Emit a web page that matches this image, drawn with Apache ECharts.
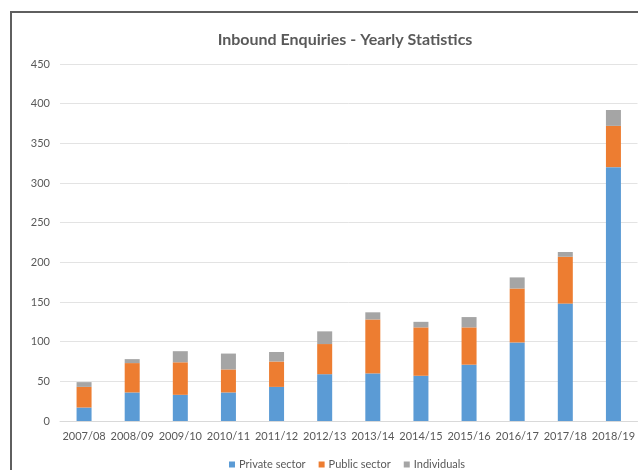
<!DOCTYPE html>
<html>
<head>
<meta charset="utf-8">
<script src="https://cdn.jsdelivr.net/npm/echarts@6/dist/echarts.min.js"></script>
<style>
  html, body { margin: 0; padding: 0; background: #fff; }
  #frame { position: absolute; left: 10px; top: 11px; width: 640px; height: 470px;
           border-left: 2px solid #5f5f5f; border-top: 2px solid #5f5f5f; }
  #chart { position: absolute; left: 0; top: 0; width: 638px; height: 470px; }
</style>
</head>
<body>
<div id="frame"></div>
<div id="chart"></div>
<script>
// Financial years on the category axis
const years = ['2007/08', '2008/09', '2009/10', '2010/11', '2011/12', '2012/13',
               '2013/14', '2014/15', '2015/16', '2016/17', '2017/18', '2018/19'];

// Enquiries per year, split by source
const privateSector = [17, 36, 33, 36, 43, 59, 60, 57, 71, 99, 148, 320];
const publicSector  = [26, 37, 41, 29, 32, 38, 68, 61, 47, 68, 59, 52];
const individuals   = [6, 5, 14, 20, 12, 16, 9, 7, 13, 14, 6, 20];

const font = 'Lato, "Open Sans", sans-serif';
const textColor = '#595959';

const chart = echarts.init(document.getElementById('chart'), null, { renderer: 'canvas' });

function bar(name, data, color) {
  return {
    name: name,
    type: 'bar',
    stack: 'total',
    barWidth: 15,
    data: data,
    itemStyle: { color: color },
    emphasis: { disabled: true }
  };
}

chart.setOption({
  animation: false,
  backgroundColor: 'transparent',
  title: {
    text: 'Inbound Enquiries - Yearly Statistics',
    left: 340,
    top: 27,
    textAlign: 'center',
    textStyle: { fontFamily: font, fontSize: 16, fontWeight: 'bold', color: textColor }
  },
  legend: {
    top: 454,
    left: 224,
    itemWidth: 6,
    itemHeight: 6,
    itemGap: 13,
    icon: 'rect',
    textStyle: { fontFamily: font, fontSize: 11, color: textColor, padding: [0, 0, 0, -1] },
    data: ['Private sector', 'Public sector', 'Individuals']
  },
  grid: { left: 60, right: -1, top: 64, bottom: 49, containLabel: false },
  xAxis: {
    type: 'category',
    data: years,
    axisLine: { lineStyle: { color: '#d9d9d9', width: 1 } },
    axisTick: { show: false },
    axisLabel: { fontFamily: font, fontSize: 11, color: textColor, margin: 10, interval: 0 }
  },
  yAxis: {
    type: 'value',
    min: 0,
    max: 450,
    interval: 50,
    axisLine: { show: false },
    axisTick: { show: false },
    axisLabel: { fontFamily: font, fontSize: 11, color: textColor, margin: 10 },
    splitLine: { lineStyle: { color: '#e3e3e3', width: 1 } }
  },
  series: [
    bar('Private sector', privateSector, '#5b9bd5'),
    bar('Public sector', publicSector, '#ed7d31'),
    bar('Individuals', individuals, '#a5a5a5')
  ]
});
</script>
</body>
</html>
